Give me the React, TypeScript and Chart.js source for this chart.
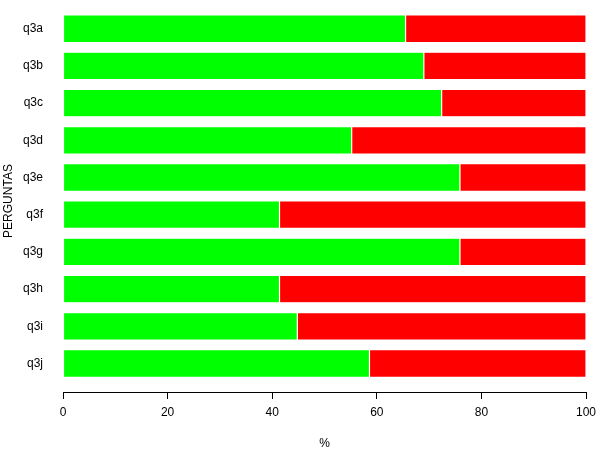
import React, { useEffect, useRef } from "react";
import { Chart, registerables } from "chart.js";

Chart.register(...registerables);

const categories = ["q3a", "q3b", "q3c", "q3d", "q3e", "q3f", "q3g", "q3h", "q3i", "q3j"];
const greenValues = [65.5, 69.0, 72.4, 55.2, 75.9, 41.4, 75.9, 41.4, 44.8, 58.6];
const redValues = [34.5, 31.0, 27.6, 44.8, 24.1, 58.6, 24.1, 58.6, 55.2, 41.4];
const xTicks = [0, 20, 40, 60, 80, 100];

const FONT = "'Liberation Sans', Arial, sans-serif";

export default function App() {
  const ref = useRef<HTMLCanvasElement | null>(null);

  useEffect(() => {
    if (!ref.current) return;
    const chart = new Chart(ref.current, {
      type: "bar",
      data: {
        datasets: [
          {
            label: "green",
            data: greenValues.map((v, i) => ({ x: v, y: i })),
            backgroundColor: "#00FF00",
            borderColor: "#FFFFFF",
            borderWidth: 0.6,
            borderSkipped: false,
            barPercentage: 0.74,
            categoryPercentage: 1,
          },
          {
            label: "red",
            data: redValues.map((v, i) => ({ x: v, y: i })),
            backgroundColor: "#FF0000",
            borderColor: "#FFFFFF",
            borderWidth: 0.6,
            borderSkipped: false,
            barPercentage: 0.74,
            categoryPercentage: 1,
          },
        ],
      },
      options: {
        indexAxis: "y",
        responsive: false,
        animation: false,
        layout: { padding: { top: 10, right: 14, left: 0, bottom: 0 } },
        plugins: { legend: { display: false }, tooltip: { enabled: false } },
        scales: {
          x: {
            type: "linear",
            stacked: true,
            min: 0,
            max: 100,
            afterBuildTicks: (scale: any) => {
              scale.ticks = xTicks.map((v) => ({ value: v }));
            },
            afterFit: (scale: any) => {
              scale.height = 58;
              scale.paddingRight = 0;
              scale.paddingLeft = 0;
            },
            border: { display: true, color: "#000000", width: 1 },
            grid: {
              display: true,
              drawOnChartArea: false,
              drawTicks: true,
              tickLength: 7,
              color: "#000000",
            },
            ticks: {
              color: "#000000",
              padding: 6,
              font: { family: FONT, size: 12 },
            },
            title: {
              display: true,
              text: "%",
              color: "#000000",
              padding: { top: 0, bottom: 0 },
              font: { family: FONT, size: 12, lineHeight: 1.05 },
            },
          },
          y: {
            type: "linear",
            stacked: true,
            reverse: true,
            offset: false,
            bounds: "data",
            min: -0.503,
            max: 9.766,
            afterBuildTicks: (scale: any) => {
              scale.ticks = categories.map((_, i) => ({ value: i }));
            },
            afterFit: (scale: any) => {
              scale.width = 63;
              scale.paddingTop = 0;
              scale.paddingBottom = 0;
            },
            border: { display: false },
            grid: { display: false, drawTicks: false, offset: false },
            ticks: {
              color: "#000000",
              padding: 20,
              font: { family: FONT, size: 12 },
              callback: (v: any) => categories[v as number] ?? "",
            },
            title: {
              display: true,
              text: "PERGUNTAS",
              color: "#000000",
              padding: { top: 1, bottom: 0 },
              font: { family: FONT, size: 12 },
            },
          },
        },
      },
    });
    return () => chart.destroy();
  }, []);

  return (
    <div style={{ position: "fixed", left: 0, top: 0, width: 600, height: 450, background: "#fff" }}>
      <canvas ref={ref} width={600} height={450} style={{ width: 600, height: 450 }} />
    </div>
  );
}
